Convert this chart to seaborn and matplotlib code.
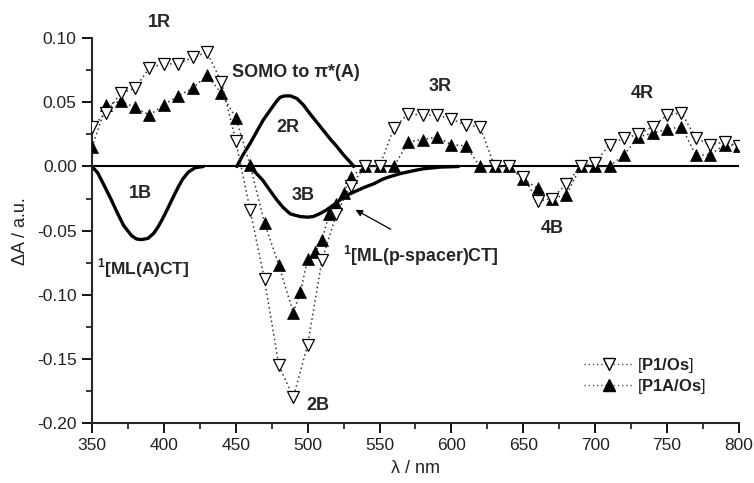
import matplotlib
matplotlib.use("Agg")
import matplotlib.pyplot as plt
import seaborn as sns
import pandas as pd
from matplotlib.ticker import MultipleLocator, FormatStrFormatter
from matplotlib.lines import Line2D

# ---------------- data ----------------
p1_x = [350, 360, 370, 380, 390, 400, 410, 420, 430, 440, 450, 460, 470, 480, 490,
        500, 510, 520, 530, 540, 550, 560, 570, 580, 590, 600, 610, 620, 630, 640,
        650, 660, 670, 680, 690, 700, 710, 720, 730, 740, 750, 760, 770, 780, 790, 800]
p1_y = [0.031, 0.042, 0.057, 0.061, 0.077, 0.080, 0.080, 0.085, 0.089, 0.066, 0.020,
        -0.034, -0.088, -0.155, -0.180, -0.139, -0.073, -0.037, -0.015, 0.0, 0.0,
        0.030, 0.041, 0.040, 0.040, 0.037, 0.032, 0.031, 0.0, 0.0,
        -0.008, -0.027, -0.025, -0.0135, 0.0, 0.003, 0.017, 0.022, 0.025, 0.031,
        0.040, 0.042, 0.022, 0.017, 0.019, 0.016]

p1a_x = [350, 360, 370, 380, 390, 400, 410, 420, 430, 440, 450, 460, 470, 480, 490,
         495, 500, 505, 510, 515, 520, 525, 530, 540, 550, 560, 570, 580, 590, 600,
         610, 620, 630, 640, 650, 660, 670, 680, 690, 700, 710, 720, 730, 740, 750,
         760, 770, 780, 790, 800]
p1a_y = [0.015, 0.048, 0.051, 0.046, 0.040, 0.048, 0.055, 0.061, 0.071, 0.057, 0.038,
         0.001, -0.044, -0.077, -0.114, -0.098, -0.072, -0.067, -0.057, -0.037, -0.029,
         -0.021, -0.008, 0.0, 0.0, 0.0, 0.019, 0.021, 0.023, 0.017,
         0.016, 0.0, 0.0, 0.0, -0.010, -0.017, -0.025, -0.022, 0.0, 0.0,
         0.0, 0.009, 0.023, 0.026, 0.029, 0.031, 0.009, 0.009, 0.017, 0.016]

# calculated bands (solid curves)
b1_x = [350, 354, 359, 363, 368, 372, 377.6, 381, 384.5, 389, 393, 396, 399, 403,
        406, 410, 413, 417, 421.7, 427.5]
b1_y = [0.0, -0.005, -0.016, -0.025, -0.037, -0.046, -0.054, -0.0565, -0.057, -0.056,
        -0.052, -0.047, -0.041, -0.032, -0.025, -0.016, -0.010, -0.0044, -0.001, 0.0]

r2_x = [450.7, 455, 460, 465, 469, 474, 478.5, 481, 484, 488, 492.5, 497, 501.7, 506,
        511, 516, 520, 525, 530.7, 532]
r2_y = [0.0, 0.009, 0.018, 0.028, 0.036, 0.044, 0.051, 0.054, 0.055, 0.055, 0.053,
        0.048, 0.041, 0.035, 0.028, 0.021, 0.016, 0.009, 0.002, 0.0]

b3_x = [459, 464, 469, 474, 478.5, 483, 488, 494.7, 500, 504, 508, 513, 518, 522.6,
        528, 534, 540, 546, 552, 557, 564, 569, 575, 580.5, 592, 605]
b3_y = [0.0, -0.005, -0.011, -0.019, -0.026, -0.032, -0.037, -0.039, -0.0395, -0.039,
        -0.037, -0.034, -0.030, -0.026, -0.022, -0.019, -0.016, -0.0135, -0.010, -0.008,
        -0.0057, -0.0044, -0.003, -0.0018, -0.0005, 0.0]

series_labels = ["[$\\bf{P1/Os}$]", "[$\\bf{P1A/Os}$]"]

# ---------------- style ----------------
sns.set_style("ticks")
plt.rcParams["font.family"] = ["Liberation Sans", "DejaVu Sans"]
plt.rcParams["mathtext.fontset"] = "custom"
plt.rcParams["mathtext.bf"] = "Liberation Sans:bold"
plt.rcParams["mathtext.rm"] = "Liberation Sans"
plt.rcParams["axes.unicode_minus"] = False

fig = plt.figure(figsize=(7.54, 4.83), dpi=100)
ax = fig.add_axes([0.122, 0.124, 0.858, 0.797])

# zero line
ax.axhline(0, color="black", lw=1.5, zorder=1)

# solid calculated curves
for cx, cy in [(b1_x, b1_y), (r2_x, r2_y), (b3_x, b3_y)]:
    sns.lineplot(x=cx, y=cy, ax=ax, color="black", lw=2.4, sort=False,
                 estimator=None, zorder=2)

# measured series
df1 = pd.DataFrame({"x": p1_x, "y": p1_y})
df2 = pd.DataFrame({"x": p1a_x, "y": p1a_y})
sns.lineplot(data=df1, x="x", y="y", ax=ax, color="#333333", lw=1.1, linestyle=(0, (1, 2)),
             marker="v", markersize=8, markerfacecolor="white", markeredgecolor="black",
             markeredgewidth=0.9, sort=False, estimator=None, zorder=4)
sns.lineplot(data=df2, x="x", y="y", ax=ax, color="#333333", lw=1.1, linestyle=(0, (1, 2)),
             marker="^", markersize=8.5, markerfacecolor="black", markeredgecolor="black",
             markeredgewidth=0.5, sort=False, estimator=None, zorder=3)

# axes
ax.set_xlim(350, 800)
ax.set_ylim(-0.2, 0.1)
ax.xaxis.set_major_locator(MultipleLocator(50))
ax.xaxis.set_minor_locator(MultipleLocator(25))
ax.yaxis.set_major_locator(MultipleLocator(0.05))
ax.yaxis.set_minor_locator(MultipleLocator(0.025))
ax.yaxis.set_major_formatter(FormatStrFormatter("%.2f"))
for s in ["top", "right"]:
    ax.spines[s].set_visible(False)
for s in ["left", "bottom"]:
    ax.spines[s].set_linewidth(1.5)
ax.tick_params(which="major", length=7, width=1.3, labelsize=12.5, color="black",
               labelcolor="#222222", pad=4)
ax.tick_params(which="minor", length=4, width=1.1, color="black")
ax.set_xlabel("λ / nm", fontsize=13, labelpad=5, color="#222222")
ax.set_ylabel("ΔA / a.u.", fontsize=13, labelpad=6, color="#222222")

# annotations
lab = dict(fontsize=13, fontweight="bold", ha="center", va="center", clip_on=False)
ax.text(397, 0.112, "1R", **lab)
ax.text(492, 0.073, "SOMO to π*(A)", **lab)
ax.text(486.5, 0.030, "2R", **lab)
ax.text(497, -0.0226, "3B", **lab)
ax.text(592, 0.062, "3R", **lab)
ax.text(732.7, 0.057, "4R", **lab)
ax.text(670, -0.048, "4B", **lab)
ax.text(507, -0.186, "2B", **lab)
ax.text(383.5, -0.021, "1B", **lab)
ax.text(353.3, -0.079, "$^{\\bf 1}$[ML(A)CT]", fontsize=12.5, fontweight="bold",
        ha="left", va="center")
ax.text(524.5, -0.0695, "$^{\\bf 1}$[ML(p-spacer)CT]", fontsize=12.8, fontweight="bold",
        ha="left", va="center")
ax.annotate("", xy=(531.6, -0.0327), xytext=(559.5, -0.050),
            arrowprops=dict(arrowstyle="-|>", color="black", lw=0.9, mutation_scale=10))

# legend
h1 = Line2D([], [], color="#555555", lw=1.0, linestyle=(0, (1, 2)), marker="v",
            markersize=8, markerfacecolor="white", markeredgecolor="black")
h2 = Line2D([], [], color="#555555", lw=1.0, linestyle=(0, (1, 2)), marker="^",
            markersize=8.5, markerfacecolor="black", markeredgecolor="black")
leg = ax.legend([h1, h2], series_labels, loc="lower left", bbox_to_anchor=(0.742, 0.04),
                frameon=False, fontsize=12, handlelength=3.0, handletextpad=0.2,
                labelspacing=0.15, borderpad=0.2)
for t in leg.get_texts():
    t.set_color("#222222")

fig.savefig("out.png", dpi=100)
